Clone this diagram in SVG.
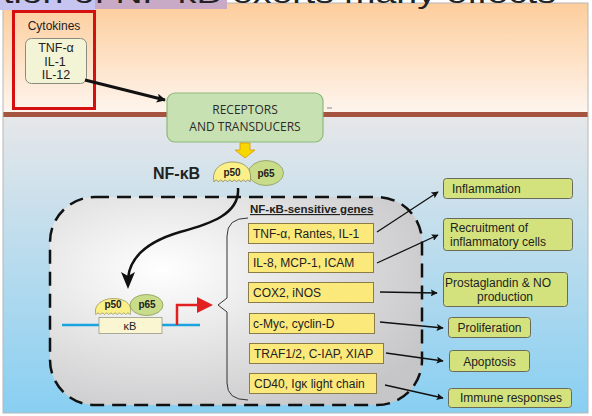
<svg xmlns="http://www.w3.org/2000/svg" width="592" height="416" viewBox="0 0 592 416">
<defs>
<linearGradient id="gTop" x1="0" y1="0" x2="0" y2="1">
<stop offset="0" stop-color="#fdcd9c"/>
<stop offset="1" stop-color="#fef5ee"/>
</linearGradient>
<linearGradient id="gBot" x1="0" y1="0" x2="0" y2="1">
<stop offset="0" stop-color="#e6e7e9"/>
<stop offset="1" stop-color="#88cff2"/>
</linearGradient>
<radialGradient id="gNuc" cx="0.3" cy="0.35" r="0.8">
<stop offset="0" stop-color="#ffffff"/>
<stop offset="1" stop-color="#c6c6c8"/>
</radialGradient>
<marker id="ah" viewBox="0 0 10 10" refX="9" refY="5" markerWidth="7" markerHeight="7" orient="auto" markerUnits="userSpaceOnUse">
<path d="M0,0 L10,5 L0,10 L2,5 z" fill="#111"/>
</marker>
<marker id="ahBig" viewBox="0 0 10 10" refX="9" refY="5" markerWidth="9" markerHeight="9" orient="auto" markerUnits="userSpaceOnUse">
<path d="M0,0 L10,5 L0,10 L2,5 z" fill="#111"/>
</marker>
<path id="p50shape" d="M-18,7 C-21,-6 -10,-13 0,-13 C12,-13 21,-7 18,7 q-2.25,-4 -4.5,0 q-2.25,-4 -4.5,0 q-2.25,-4 -4.5,0 q-2.25,-4 -4.5,0 q-2.25,-4 -4.5,0 q-2.25,-4 -4.5,0 q-2.25,-4 -4.5,0 q-2.25,-4 -4.5,0 z"/>
</defs>
<style>
.t{font-family:"Liberation Sans",Arial,sans-serif;fill:#222;}
.gene{fill:#fbe97c;stroke:#8a7c48;stroke-width:1;}
.out{fill:#d3e27c;stroke:#6a6a5a;stroke-width:1;}
.p50{fill:#fbef88;stroke:#8c8a58;stroke-width:0.8;}
.p65{fill:#c9dc8a;stroke:#8a9a5a;stroke-width:0.8;}
.con{stroke:#111;stroke-width:1.3;fill:none;marker-end:url(#ah);}
</style>

<!-- background panel -->
<rect x="3" y="3" width="585" height="110" fill="url(#gTop)"/>
<rect x="3" y="117" width="585" height="296" fill="url(#gBot)"/>
<rect x="3" y="112" width="585" height="5" fill="#a5553f"/>
<rect x="3" y="3" width="585" height="410" fill="none" stroke="#b8b8b8" stroke-width="1"/>
<rect x="327" y="107.5" width="5" height="1" fill="#888"/>

<!-- title cut off -->
<rect x="0" y="0" width="95" height="10" fill="#c6c4f0"/>
<rect x="95" y="0" width="132" height="9" fill="#c9aac6"/>
<text class="t" x="3" y="3" font-size="28" textLength="553" lengthAdjust="spacingAndGlyphs" fill="#111">tion of NF-κB exerts many effects</text>

<!-- cytokines -->
<g id="cytokines">
<rect x="13.5" y="11.5" width="81" height="97" fill="none" stroke="#d41010" stroke-width="3"/>
<text class="t" x="54" y="30" font-size="12" text-anchor="middle" fill="#333">Cytokines</text>
<rect x="25.5" y="38.5" width="61" height="45" rx="6" fill="#f3f3d6" stroke="#8a8a80" stroke-width="1"/>
<text class="t" x="56" y="52" font-size="12.5" text-anchor="middle">TNF-α</text>
<text class="t" x="55" y="66" font-size="12.5" text-anchor="middle">IL-1</text>
<text class="t" x="56" y="79" font-size="12.5" text-anchor="middle">IL-12</text>
</g>

<!-- receptors -->
<g id="receptors">
<rect x="167" y="93" width="156" height="49" rx="8" fill="#c8e1b3" stroke="#8cb87a" stroke-width="1.2"/>
<text x="245" y="114" font-family="'Open Sans','Liberation Sans',sans-serif" font-size="12" text-anchor="middle" fill="#2b2b2b">RECEPTORS</text>
<text x="245" y="131" font-family="'Open Sans','Liberation Sans',sans-serif" font-size="12" text-anchor="middle" fill="#2b2b2b">AND TRANSDUCERS</text>
</g>

<!-- nucleus -->
<g id="nucleus">
<rect x="50" y="197" width="372" height="208" rx="45" fill="url(#gNuc)" stroke="#111" stroke-width="2.5" stroke-dasharray="14,8"/>
</g>

<!-- NF-kB cytoplasm -->
<g id="nfkb">
<text class="t" x="153" y="179" font-size="16" font-weight="bold" fill="#333">NF-κB</text>
<ellipse class="p65" cx="266" cy="173" rx="17.5" ry="12.5"/>
<use href="#p50shape" class="p50" transform="translate(232,175)"/>
<text class="t" x="232" y="176" font-size="10" font-weight="bold" text-anchor="middle">p50</text>
<text class="t" x="266" y="177" font-size="10" font-weight="bold" text-anchor="middle">p65</text>
</g>

<!-- DNA -->
<g id="dna">
<line x1="62" y1="325" x2="200" y2="325" stroke="#1aa3e0" stroke-width="2.5"/>
<rect x="99" y="317.5" width="63" height="16" fill="#fbf6d2" stroke="#9a9a88" stroke-width="0.8"/>
<text class="t" x="130" y="330" font-size="11" text-anchor="middle">κB</text>
<ellipse class="p65" cx="146.5" cy="305" rx="16.5" ry="10.5"/>
<use href="#p50shape" class="p50" transform="translate(113,309) scale(0.95,0.8)"/>
<text class="t" x="113" y="308" font-size="10" font-weight="bold" text-anchor="middle">p50</text>
<text class="t" x="147" y="308" font-size="10" font-weight="bold" text-anchor="middle">p65</text>
</g>

<!-- genes -->
<g id="genes">
<text class="t" x="250" y="213" font-size="11.5" font-weight="bold" fill="#333" text-decoration="underline">NF-κB-sensitive genes</text>
<path d="M248,218 Q227,218 227,236 L227,298 L218,305 L227,312 L227,383 Q227,400 248,400" fill="none" stroke="#333" stroke-width="1"/>
</g>
<g id="gene1"><rect class="gene" x="248.5" y="223.5" width="125" height="20"/><text class="t" x="253" y="238" font-size="12">TNF-α, Rantes, IL-1</text></g>
<g id="gene2"><rect class="gene" x="248.5" y="252.5" width="125" height="20"/><text class="t" x="253" y="267" font-size="12">IL-8, MCP-1, ICAM</text></g>
<g id="gene3"><rect class="gene" x="248.5" y="282.5" width="125" height="20"/><text class="t" x="253" y="297" font-size="12">COX2, iNOS</text></g>
<g id="gene4"><rect class="gene" x="249.5" y="313.5" width="125" height="20"/><text class="t" x="253" y="328" font-size="12">c-Myc, cyclin-D</text></g>
<g id="gene5"><rect class="gene" x="249.5" y="343.5" width="134" height="20"/><text class="t" x="254" y="358" font-size="12">TRAF1/2, C-IAP, XIAP</text></g>
<g id="gene6"><rect class="gene" x="249.5" y="373.5" width="127" height="20"/><text class="t" x="254" y="388" font-size="12">CD40, Igκ light chain</text></g>

<!-- outcomes -->
<g id="out1"><rect class="out" x="443.5" y="178.5" width="129" height="20" rx="3"/><text class="t" x="452" y="193" font-size="12">Inflammation</text></g>
<g id="out2"><rect class="out" x="443.5" y="218.5" width="129" height="32" rx="3"/><text class="t" x="450" y="232" font-size="12">Recruitment of</text><text class="t" x="450" y="246" font-size="12">inflammatory cells</text></g>
<g id="out3"><rect class="out" x="443.5" y="272.5" width="124" height="34" rx="3"/><text class="t" x="445" y="287" font-size="12">Prostaglandin &amp; NO</text><text class="t" x="505" y="301" font-size="12" text-anchor="middle">production</text></g>
<g id="out4"><rect class="out" x="448.5" y="317.5" width="82" height="20" rx="3"/><text class="t" x="489.5" y="332" font-size="12" text-anchor="middle">Proliferation</text></g>
<g id="out5"><rect class="out" x="449.5" y="350.5" width="80" height="21" rx="3"/><text class="t" x="489.5" y="366" font-size="12" text-anchor="middle">Apoptosis</text></g>
<g id="out6"><rect class="out" x="448.5" y="388.5" width="123" height="19" rx="3"/><text class="t" x="511" y="402" font-size="12" text-anchor="middle">Immune responses</text></g>

<!-- connectors -->
<g id="connectors">
<line x1="85" y1="80" x2="165" y2="100" stroke="#111" stroke-width="3" marker-end="url(#ahBig)"/>
<path d="M240,143 L250,143 L250,150 L255,150 L245,158 L235,150 L240,150 z" fill="#f6d800" stroke="#d89a00" stroke-width="0.8"/>
<path d="M238,188 C240,214 210,224 180,232 C146,242 130,258 128,278" fill="none" stroke="#111" stroke-width="2.5"/>
<path d="M121,272 L128,289 L135,272 L128,276 z" fill="#111"/>
<path d="M177,325 L177,305 L198,305" fill="none" stroke="#e32020" stroke-width="2.5"/>
<path d="M197,297 L213,305 L197,313 z" fill="#e32020"/>
<line class="con" x1="377" y1="232" x2="438" y2="192"/>
<line class="con" x1="377" y1="263" x2="438" y2="235"/>
<line class="con" x1="380" y1="292" x2="437" y2="293"/>
<line class="con" x1="380" y1="322" x2="443" y2="328"/>
<line class="con" x1="386" y1="353" x2="443" y2="361"/>
<line class="con" x1="385" y1="385" x2="443" y2="398"/>
</g>
</svg>
